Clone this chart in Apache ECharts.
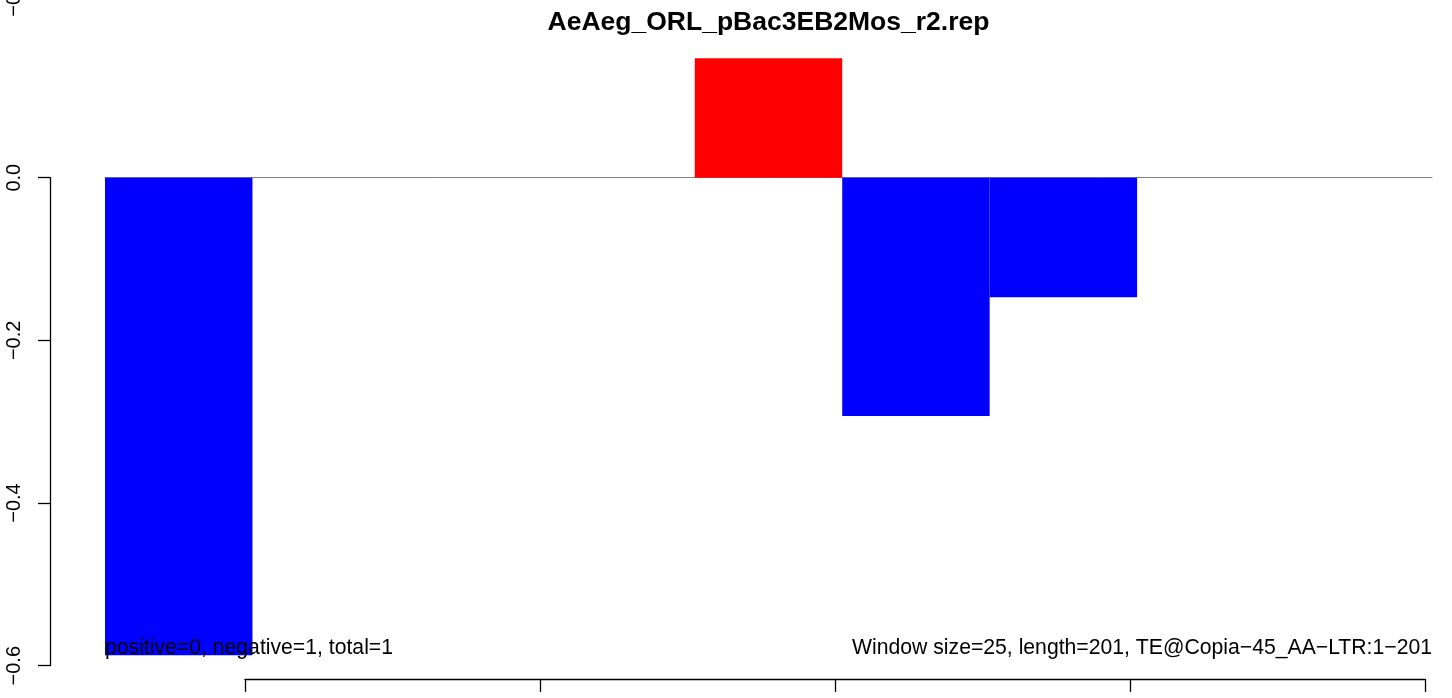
<!DOCTYPE html>
<html>
<head>
<meta charset="utf-8">
<script src="https://cdn.jsdelivr.net/npm/echarts@6/dist/echarts.min.js"></script>
<style>html,body{margin:0;padding:0;background:#fff}#c{width:1452px;height:698px}</style>
</head>
<body>
<div id="c"></div>
<script>
// ---- data ----
const windows = ['1','2','3','4','5','6','7','8','9'];
const values = [-0.587, 0, 0, 0, 0.147, -0.293, -0.147, 0, 0];
const yTicks = [-0.6, -0.4, -0.2, 0.0];
const xTickCount = [0, 1, 2, 3, 4];
const titleText = 'AeAeg_ORL_pBac3EB2Mos_r2.rep';
const leftNote = 'positive=0, negative=1, total=1';
const rightNote = 'Window size=25, length=201, TE@Copia\u221245_AA\u2212LTR:1\u2212201';

const FONT = '"Liberation Sans", Arial, Helvetica, sans-serif';
const chart = echarts.init(document.getElementById('c'), null, {renderer: 'canvas'});
const fmt = v => v.toFixed(1).replace('-', '\u2212');

chart.setOption({
  animation: false,
  backgroundColor: '#ffffff',
  grid: [
    {left: 105, right: 20, top: 15.03, bottom: 32.3},
    {left: 50, width: 1, top: 177.7, bottom: 32.3},
    {left: 245, right: 27, top: 678, height: 1}
  ],
  xAxis: [
    {type: 'category', gridIndex: 0, data: windows,
     axisLine: {show: true, onZero: true, lineStyle: {color: '#808080', width: 1}},
     axisTick: {show: false}, axisLabel: {show: false}, splitLine: {show: false}},
    {type: 'value', gridIndex: 1, show: false},
    {type: 'value', gridIndex: 2, min: xTickCount[0], max: xTickCount[xTickCount.length - 1], interval: 1, position: 'bottom',
     axisLine: {show: true, lineStyle: {color: '#000', width: 1.3}},
     axisTick: {show: true, length: 13, lineStyle: {color: '#000', width: 1.3}},
     axisLabel: {show: false}, splitLine: {show: false}}
  ],
  yAxis: [
    {type: 'value', gridIndex: 0, min: -0.6, max: 0.2, show: false, splitLine: {show: false}},
    {type: 'value', gridIndex: 1, min: yTicks[0], max: yTicks[yTicks.length - 1], interval: 0.2,
     axisLine: {show: true, lineStyle: {color: '#000', width: 1.3}},
     axisTick: {show: true, length: 12, lineStyle: {color: '#000', width: 1.3}},
     axisLabel: {show: true, rotate: 90, margin: 26, formatter: fmt,
       fontFamily: FONT, fontSize: 20, color: '#000'},
     splitLine: {show: false}},
    {type: 'value', gridIndex: 2, show: false}
  ],
  series: [{
    type: 'bar', xAxisIndex: 0, yAxisIndex: 0,
    data: values.map(v => ({value: v, itemStyle: {color: v >= 0 ? '#ff0000' : '#0000ff'}})),
    barCategoryGap: '0%', barGap: '0%'
  }],
  graphic: [
    {type: 'text', x: 768.5, y: 23, z: 100,
     style: {text: titleText, fontFamily: FONT, fontSize: 26.5, fontWeight: 'bold', fill: '#000',
       align: 'center', verticalAlign: 'middle'}},
    {type: 'text', left: 105, top: 638, z: 100,
     style: {text: leftNote, fontFamily: FONT, fontSize: 21.2, fill: '#000'}},
    {type: 'text', right: 20, top: 638, z: 100,
     style: {text: rightNote, fontFamily: FONT, fontSize: 21.2, fill: '#000'}},
    {type: 'text', x: 14, y: -3, rotation: Math.PI / 2, z: 100,
     style: {text: '\u22120.6', fontFamily: FONT, fontSize: 20, fill: '#000', align: 'center', verticalAlign: 'middle'}}
  ]
});
</script>
</body>
</html>
